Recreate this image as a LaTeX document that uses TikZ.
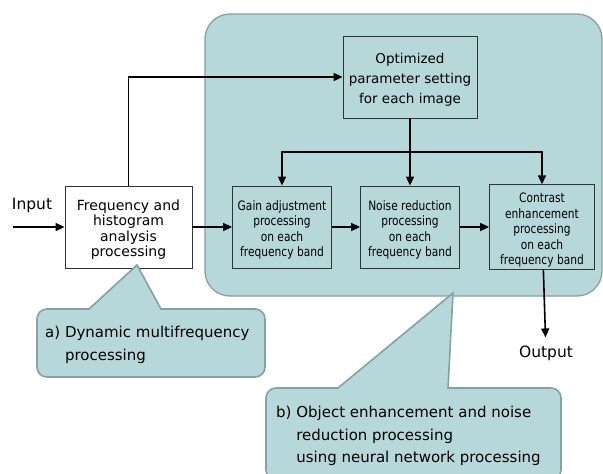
\documentclass[tikz,border=0pt]{standalone}
\usepackage{fontspec}
\setmainfont{DejaVu Sans}
\newfontfamily\narrowfont[FakeStretch=0.82]{DejaVu Sans}
\usetikzlibrary{arrows.meta}
\definecolor{panelfill}{RGB}{183,216,218}
\definecolor{panelline}{RGB}{134,160,164}
\newcommand{\toprule}{\rule{0pt}{16pt}}

\begin{document}
\begin{tikzpicture}[x=1pt,y=-1pt,
	block/.style={draw=black!80, line width=0.8pt, minimum height=82pt, inner sep=2pt, align=center, font=\fontsize{14}{15.5}\selectfont},
	bandblock/.style={block, fill=panelfill, font=\narrowfont\fontsize{13}{15.5}\selectfont},
	flow/.style={-{Triangle[length=9pt,width=8pt]}, line width=1.6pt},
	callout/.style={fill=panelfill, draw=panelline, line width=1.6pt},
	note/.style={align=left, anchor=north west, inner sep=0pt, font=\fontsize{15}{22.5}\selectfont}]
	\useasboundingbox (0,0) rectangle (603,474);
	\draw[callout, line width=1.3pt, rounded corners=25pt] (205,14) rectangle (602,296);
	
	\node[block, fill=white, minimum width=127pt] at (128.5,227) (freq) {\toprule Frequency and\\histogram\\analysis\\processing};
	\node[block, fill=panelfill, minimum width=134pt, font=\fontsize{13.5}{20}\selectfont] at (410,77) (optim) {\toprule Optimized\\parameter setting\\for each image};
	\node[bandblock, minimum width=99pt] at (282,227) (gain) {\toprule Gain adjustment\\processing\\on each\\frequency band};
	\node[bandblock, minimum width=99pt] at (410,227) (noise) {\toprule Noise reduction\\processing\\on each\\frequency band};
	\node[bandblock, minimum width=105pt] at (542,227) (contrast) {\toprule Contrast\\enhancement\\processing\\on each\\frequency band};
	\node[font=\fontsize{15.5}{18}\selectfont] at (32,205) (input) {Input};
	\node[font=\fontsize{15.5}{18}\selectfont, inner ysep=8pt] at (546,353) (output) {Output};
	\coordinate (inlet) at (13,227);
	\coordinate (split) at (410,152);
	
	\draw[flow] (inlet) -- (freq.west);
	\draw[flow] (freq) -- (gain);
	\draw[flow] (gain) -- (noise);
	\draw[flow] (noise) -- (contrast);
	\draw[flow] (freq.north) |- (optim.west);
	\draw[line width=1.6pt] (optim.south) -- (split);
	\draw[flow] (split) -| (gain.north);
	\draw[flow] (split) -- (noise.north);
	\draw[flow] (split) -| (contrast.north);
	\draw[flow] (contrast) -- (output);
	
	\draw[callout] (89,309) -- (137,265) -- (161,309) {[rounded corners=10pt] -- (265,309) -- (265,377) -- (37,377) -- (37,309)} -- cycle;
	\draw[callout] (338,388) -- (453,293) -- (448,388) {[rounded corners=10pt] -- (561,388) -- (561,480) -- (266,480) -- (266,388)} -- cycle;
	\node[note] at (45,326) (dynnote) {a) Dynamic multifrequency\\\phantom{a) }processing};
	\node[note] at (276,406) (nnnote) {b) Object enhancement and noise\\\phantom{b) }reduction processing\\\phantom{b) }using neural network processing};
	
\end{tikzpicture}
\end{document}
